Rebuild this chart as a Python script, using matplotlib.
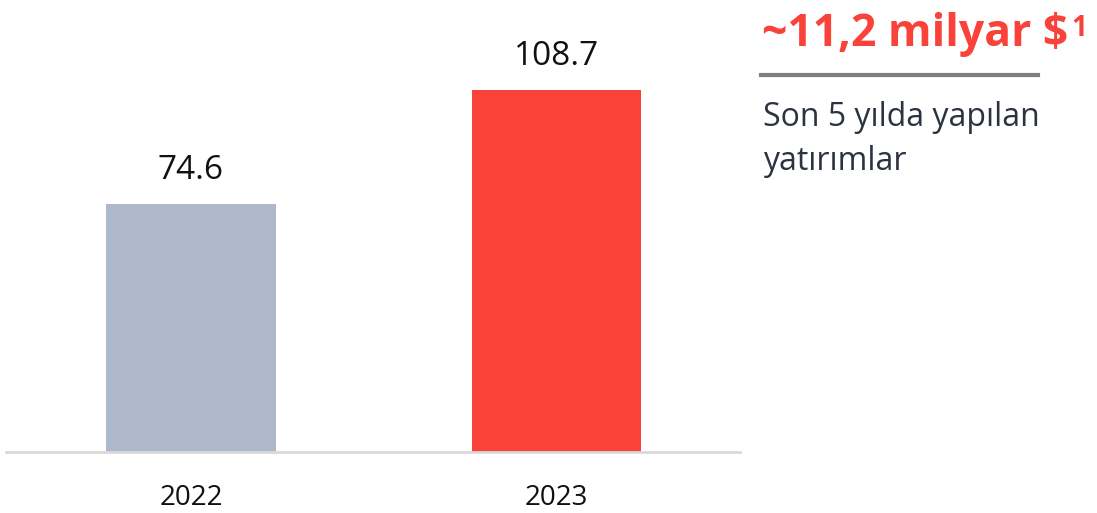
import matplotlib.pyplot as plt
from matplotlib.lines import Line2D

years = ["2022", "2023"]
values = [74.6, 108.7]
bar_colors = ["#ADB9CA", "#F9423A"]
headline = "~11,2 milyar $"
headline_note = "1"
caption = "Son 5 yılda yapılan\nyatırımlar"

plt.rcParams['font.family'] = ['Open Sans', 'DejaVu Sans']

W, H = 1097, 513
fig = plt.figure(figsize=(W / 100, H / 100), dpi=100)

# axes spans x 6..740 px, baseline at y=452 px
ax = fig.add_axes([6 / W, (H - 452) / H, (740 - 6) / W, 452 / H])
x = range(len(years))
bars = ax.bar(x, values, width=0.465, color=bar_colors, zorder=2)
ax.set_xlim(-0.506, 1.502)
ax.set_ylim(0, 135.7)

for b, v in zip(bars, values):
    ax.annotate(f"{v:.1f}", (b.get_x() + b.get_width() / 2, v),
                xytext=(0, 12), textcoords="offset points",
                ha="center", va="bottom", fontsize=24, color="#111111")

ax.set_xticks(list(x))
ax.set_xticklabels(years, fontsize=20, color="#111111")
ax.tick_params(axis="x", length=0, pad=23)
ax.set_yticks([])
for s in ["top", "right", "left"]:
    ax.spines[s].set_visible(False)
ax.spines["bottom"].set_color("#D9D9D9")
ax.spines["bottom"].set_linewidth(2)

# right side annotation
t = fig.text(762 / W, 1 - 35 / H, headline, fontsize=32, fontweight="bold",
             color="#F9423A", ha="left", va="center")
fig.canvas.draw()
bb = t.get_window_extent()
fig.text((bb.x1 + 3) / W, (bb.y1 - 2) / H, headline_note, fontsize=20,
         fontweight="bold", color="#F9423A", ha="left", va="top")

fig.add_artist(Line2D([761 / W, 1038 / W], [1 - 75 / H, 1 - 75 / H],
                      transform=fig.transFigure, color="#7F7F7F", linewidth=3))

fig.text(763 / W, 1 - 101 / H, caption, fontsize=23, color="#2B3340",
         ha="left", va="top", linespacing=1.45)

fig.savefig("out.png", dpi=100)
